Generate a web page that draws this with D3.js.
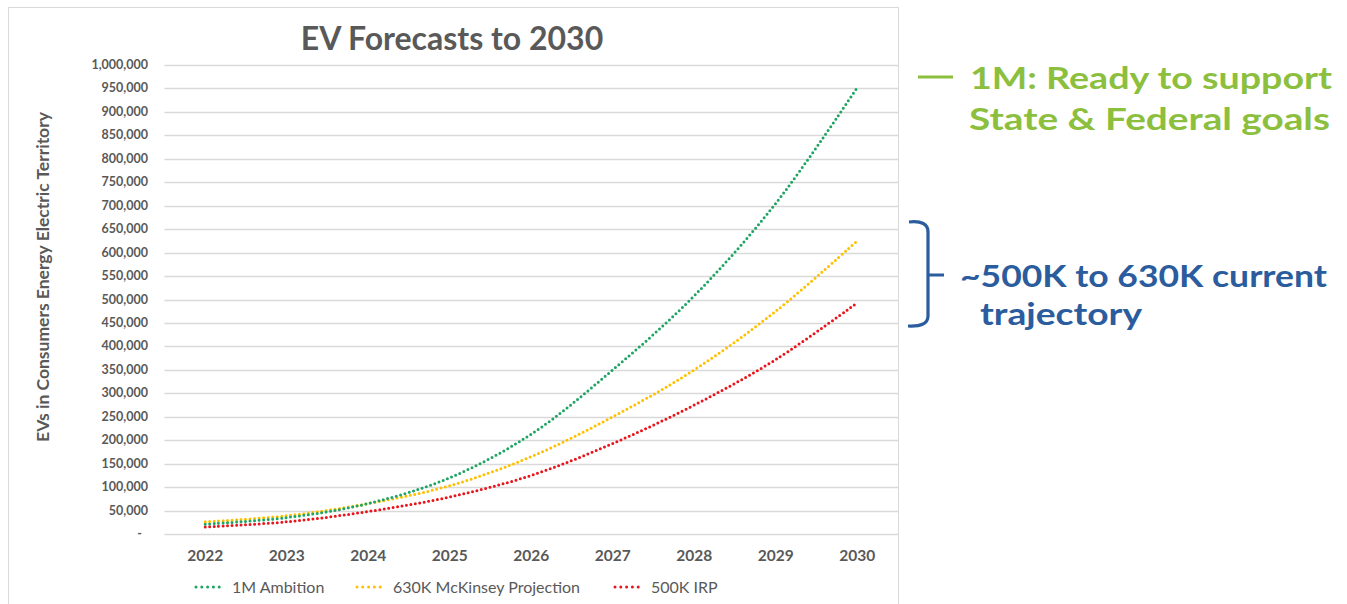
<!DOCTYPE html>
<html>
<head>
<meta charset="utf-8">
<script src="https://cdn.jsdelivr.net/npm/d3@7.9.0/dist/d3.min.js"></script>
<style>
  body { margin: 0; background: #fff; }
  svg { display: block; font-family: Lato, "Open Sans", sans-serif; }
</style>
</head>
<body>
<svg id="chart" width="1347" height="604"></svg>
<script>
const years = ['2022', '2023', '2024', '2025', '2026', '2027', '2028', '2029', '2030'];
const ambition = [21000, 35000, 65000, 120000, 213000, 350000, 508000, 705000, 952000];
const mckinsey = [26000, 39000, 65000, 103000, 165000, 250000, 350000, 475000, 625000];
const irp = [15000, 26000, 48000, 79000, 125000, 193000, 275000, 372000, 493000];
const yTicks = d3.range(0, 1000001, 50000);

const series = [
  { name: '1M Ambition', values: ambition, color: '#1fa463' },
  { name: '630K McKinsey Projection', values: mckinsey, color: '#ffc000' },
  { name: '500K IRP', values: irp, color: '#e8151b' }
];

const svg = d3.select('#chart');
const grey = '#595959';

// chart frame
svg.append('rect')
  .attr('x', 8.5).attr('y', 7.5)
  .attr('width', 890).attr('height', 600)
  .attr('fill', 'none')
  .attr('stroke', '#d9d9d9');

const x = d3.scalePoint().domain(years).range([164.5, 898]).padding(0.5);
const y = d3.scaleLinear().domain([0, 1000000]).range([534, 65]);

// gridlines
svg.append('g')
  .selectAll('line')
  .data(yTicks)
  .join('line')
  .attr('x1', 164.5).attr('x2', 898)
  .attr('y1', (d) => Math.round(y(d)) + 0.5)
  .attr('y2', (d) => Math.round(y(d)) + 0.5)
  .attr('stroke', '#d9d9d9')
  .attr('stroke-width', 1.3);

// y axis labels
const fmt = d3.format(',');
svg.append('g')
  .selectAll('text')
  .data(yTicks)
  .join('text')
  .attr('x', (d) => (d === 0 ? 142 : 148))
  .attr('y', (d) => y(d) + 4)
  .attr('text-anchor', 'end')
  .attr('font-size', 12.5)
  .attr('font-weight', 'bold')
  .attr('fill', grey)
  .text((d) => (d === 0 ? '-' : fmt(d)));

// x axis labels
svg.append('g')
  .selectAll('text')
  .data(years)
  .join('text')
  .attr('x', (d) => x(d))
  .attr('y', 561)
  .attr('text-anchor', 'middle')
  .attr('font-size', 15.5)
  .attr('font-weight', 'bold')
  .attr('fill', grey)
  .text((d) => d);

// titles
svg.append('text')
  .attr('x', 452).attr('y', 50)
  .attr('text-anchor', 'middle')
  .attr('font-size', 32)
  .attr('font-weight', 'bold')
  .attr('fill', grey)
  .text('EV Forecasts to 2030');

svg.append('text')
  .attr('transform', 'translate(49,277) rotate(-90)')
  .attr('text-anchor', 'middle')
  .attr('font-size', 17.5)
  .attr('font-weight', 'bold')
  .attr('fill', grey)
  .text('EVs in Consumers Energy Electric Territory');

// lines
const line = d3.line()
  .x((d, i) => x(years[i]))
  .y((d) => y(d))
  .curve(d3.curveCatmullRom.alpha(0.5));

series.slice().reverse().forEach((s) => {
  svg.append('path')
    .attr('d', line(s.values))
    .attr('fill', 'none')
    .attr('stroke', s.color)
    .attr('stroke-width', 3)
    .attr('stroke-linecap', 'round')
    .attr('stroke-dasharray', '0 4.5');
});

// legend
const legendX = [195, 356, 614];
series.forEach((s, i) => {
  const g = svg.append('g').attr('transform', `translate(${legendX[i]},587)`);
  g.append('line')
    .attr('x1', 1).attr('x2', 30)
    .attr('stroke', s.color)
    .attr('stroke-width', 3)
    .attr('stroke-linecap', 'round')
    .attr('stroke-dasharray', '0 5.8');
  g.append('text')
    .attr('x', 37).attr('y', 5.5)
    .attr('font-size', 16)
    .attr('fill', grey)
    .text(s.name);
});

// annotations
const green = '#8dbf3f';
const blue = '#2b5c9d';

function note(text, xPos, yPos, width, color) {
  svg.append('text')
    .attr('x', xPos).attr('y', yPos)
    .attr('font-size', 30)
    .attr('font-weight', 'bold')
    .attr('fill', color)
    .attr('textLength', width)
    .attr('lengthAdjust', 'spacingAndGlyphs')
    .text(text);
}

svg.append('line')
  .attr('x1', 918).attr('x2', 953)
  .attr('y1', 77).attr('y2', 77)
  .attr('stroke', green)
  .attr('stroke-width', 3);

note('1M: Ready to support', 970, 89, 362, green);
note('State & Federal goals', 969, 130, 361, green);

svg.append('path')
  .attr('d', 'M909,222 Q928,220 928,232 L928,316 Q928,327 908,326 M928,275 L944,275')
  .attr('fill', 'none')
  .attr('stroke', blue)
  .attr('stroke-width', 3.2);

note('~500K to 630K current', 960, 287, 367, blue);
note('trajectory', 980, 325, 162, blue);
</script>
</body>
</html>
